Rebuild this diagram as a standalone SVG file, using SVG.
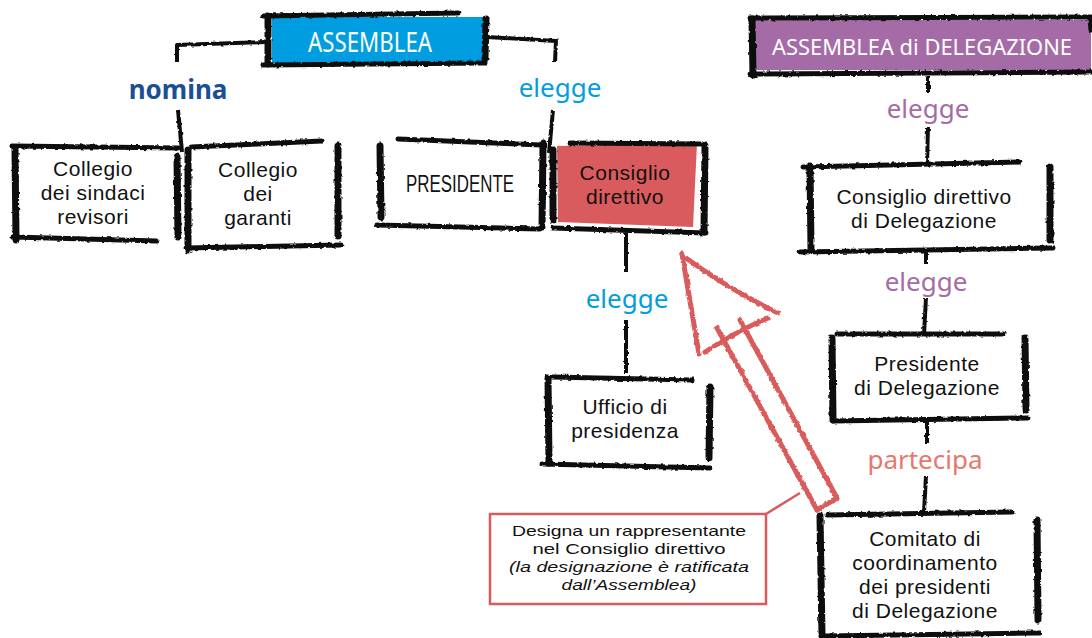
<svg xmlns="http://www.w3.org/2000/svg" width="1092" height="638" viewBox="0 0 1092 638">
<style>
.b{fill:none;stroke:#111;stroke-width:5;stroke-linecap:round;stroke-linejoin:round}
.bw{fill:none;stroke:#111;stroke-width:7;stroke-linecap:round}
.c{fill:none;stroke:#111;stroke-width:4;stroke-linecap:butt;stroke-linejoin:round}
.t{font-family:"Liberation Sans",Arial,sans-serif;font-size:21px;letter-spacing:0.5px;fill:#111;text-anchor:middle}
.h{font-family:"Noto Sans","Open Sans",sans-serif;font-size:28px;fill:#fff;text-anchor:middle}
.l{font-family:"Noto Sans","Open Sans",sans-serif;font-size:26px;text-anchor:middle}
.ar{fill:none;stroke:#d95b5d;stroke-width:5;stroke-linecap:round;stroke-linejoin:round}
.note{font-family:"Liberation Sans",Arial,sans-serif;font-size:15px;fill:#111;text-anchor:middle}
</style>
<defs>
<filter id="rough" filterUnits="userSpaceOnUse" x="0" y="0" width="1092" height="638">
<feTurbulence type="fractalNoise" baseFrequency="0.25" numOctaves="2" seed="4" result="n"/>
<feDisplacementMap in="SourceGraphic" in2="n" scale="3" xChannelSelector="R" yChannelSelector="G"/>
</filter>
</defs>
<rect width="1092" height="638" fill="#fff"/>

<g id="connectors" filter="url(#rough)">
<path class="c" d="M266,42 L177,45 L177,62"/>
<path class="c" d="M178,110 L182,152"/>
<path class="c" d="M487,37 L556,41 L555,62"/>
<path class="c" d="M553,110 L549,153"/>
<path class="c" d="M626,233 L626,272"/>
<path class="c" d="M626,320 L626,373"/>
<path class="c" d="M928,76 L928,92"/>
<path class="c" d="M928,127 L927,165"/>
<path class="c" d="M926,250 L926,264"/>
<path class="c" d="M926,298 L924,334"/>
<path class="c" d="M927,421 L927,443"/>
<path class="c" d="M926,476 L924,512"/>
</g>

<g id="labels">
<text class="l" x="178" y="99" fill="#1b4f95" font-weight="bold">nomina</text>
<text class="l" x="560" y="97" fill="#009ee0">elegge</text>
<text class="l" x="627" y="308" fill="#009ee0">elegge</text>
<text class="l" x="928" y="118" fill="#a56ba6">elegge</text>
<text class="l" x="926" y="291" fill="#a56ba6">elegge</text>
<text class="l" x="925" y="469" fill="#e7766c">partecipa</text>
</g>

<g id="assemblea">
<polygon points="272,17 488,17 488,62 272,63" fill="#009ee0"/>
<g filter="url(#rough)">
<path class="b" d="M263,16 L458,13"/>
<path class="b" d="M263,65 L485,63"/>
<path class="bw" d="M268,16 L268,64"/>
<path class="bw" d="M486,19 L485,58"/>
</g>
<text class="h" x="370" y="52" textLength="124" lengthAdjust="spacingAndGlyphs">ASSEMBLEA</text>
</g>

<g id="assemblea-delegazione">
<polygon points="755,20 1091,20 1091,70 755,70" fill="#a56ba6"/>
<g filter="url(#rough)">
<path class="b" d="M750,18 L1092,17"/>
<path class="b" d="M750,74 L1092,72"/>
<path class="bw" d="M752,19 L753,75"/>
<path class="b" d="M1090,19 L1091,30"/>
</g>
<text class="h" x="922" y="55" style="font-size:21px" textLength="300" lengthAdjust="spacingAndGlyphs">ASSEMBLEA di DELEGAZIONE</text>
</g>

<g id="collegio-sindaci">
<g filter="url(#rough)">
<path class="b" d="M12,146 L178,148"/>
<path class="bw" d="M15,149 L16,240"/>
<path class="bw" d="M177,157 L178,237"/>
<path class="b" d="M13,237 L157,241"/>
</g>
<text class="t" y="176"><tspan x="93">Collegio</tspan><tspan x="93" dy="24">dei sindaci</tspan><tspan x="93" dy="24">revisori</tspan></text>
</g>

<g id="collegio-garanti">
<g filter="url(#rough)">
<path class="b" d="M191,147 L322,141"/>
<path class="bw" d="M188,150 L188,250"/>
<path class="bw" d="M338,146 L338,236"/>
<path class="b" d="M186,248 L341,245"/>
</g>
<text class="t" y="177"><tspan x="258">Collegio</tspan><tspan x="258" dy="24">dei</tspan><tspan x="258" dy="24">garanti</tspan></text>
</g>

<g id="presidente">
<g filter="url(#rough)">
<path class="b" d="M398,139 L541,145"/>
<path class="bw" d="M380,146 L381,217"/>
<path class="bw" d="M543,143 L542,227"/>
<path class="b" d="M377,225 L540,229"/>
</g>
<text class="t" x="460" y="192" style="font-size:24px;letter-spacing:0" textLength="108" lengthAdjust="spacingAndGlyphs">PRESIDENTE</text>
</g>

<g id="consiglio-direttivo">
<polygon points="557,146 697,143 693,227 558,222" fill="#d95b5d"/>
<g filter="url(#rough)">
<path class="b" d="M570,143 L705,144"/>
<path class="bw" d="M553,150 L553,220"/>
<path class="bw" d="M705,146 L704,232"/>
<path class="b" d="M553,228 L706,233"/>
</g>
<text class="t" y="180"><tspan x="625">Consiglio</tspan><tspan x="625" dy="24">direttivo</tspan></text>
</g>

<g id="ufficio-presidenza">
<g filter="url(#rough)">
<path class="b" d="M552,377 L692,380"/>
<path class="bw" d="M548,378 L549,463"/>
<path class="bw" d="M710,387 L709,458"/>
<path class="b" d="M542,464 L710,468"/>
</g>
<text class="t" y="414"><tspan x="625">Ufficio di</tspan><tspan x="625" dy="24">presidenza</tspan></text>
</g>

<g id="consiglio-delegazione">
<g filter="url(#rough)">
<path class="b" d="M803,167 L1020,162"/>
<path class="bw" d="M810,166 L811,250"/>
<path class="bw" d="M1050,167 L1050,240"/>
<path class="b" d="M800,252 L1053,248"/>
</g>
<text class="t" y="204"><tspan x="924">Consiglio direttivo</tspan><tspan x="924" dy="24">di Delegazione</tspan></text>
</g>

<g id="presidente-delegazione">
<g filter="url(#rough)">
<path class="b" d="M837,334 L1003,334"/>
<path class="bw" d="M832,338 L833,420"/>
<path class="bw" d="M1025,338 L1026,410"/>
<path class="b" d="M833,421 L1028,418"/>
</g>
<text class="t" y="371"><tspan x="927">Presidente</tspan><tspan x="927" dy="24">di Delegazione</tspan></text>
</g>

<g id="comitato">
<g filter="url(#rough)">
<path class="b" d="M827,515 L1012,512"/>
<path class="bw" d="M820,516 L822,636"/>
<path class="bw" d="M1037,520 L1038,620"/>
<path class="b" d="M825,636 L1040,633"/>
</g>
<text class="t" y="546"><tspan x="925">Comitato di</tspan><tspan x="925" dy="24">coordinamento</tspan><tspan x="925" dy="24">dei presidenti</tspan><tspan x="925" dy="24">di Delegazione</tspan></text>
</g>

<g id="arrow" filter="url(#rough)">
<path class="ar" d="M682,254 Q690,300 699,354"/>
<path class="ar" d="M683,256 Q730,290 778,313"/>
<path class="ar" d="M705,352 Q735,332 768,318"/>
<path class="ar" stroke-width="4.5" d="M717,328 L817,510"/>
<path class="ar" stroke-width="4.5" d="M740,320 L837,498"/>
<path class="ar" stroke-width="1.5" d="M817,510 L837,498"/>
</g>

<g id="callout">
<path d="M800,493 L766,514" fill="none" stroke="#d95b5d" stroke-width="2.5"/>
<rect x="490" y="514" width="276" height="90" fill="#fff" stroke="#d95b5d" stroke-width="2.5"/>
<text class="note" x="629" y="536" textLength="234" lengthAdjust="spacingAndGlyphs">Designa un rappresentante</text>
<text class="note" x="629" y="554" textLength="193" lengthAdjust="spacingAndGlyphs">nel Consiglio direttivo</text>
<text class="note" x="629" y="572" font-style="italic" textLength="240" lengthAdjust="spacingAndGlyphs">(la designazione è ratificata</text>
<text class="note" x="629" y="590" font-style="italic" textLength="135" lengthAdjust="spacingAndGlyphs">dall’Assemblea)</text>
</g>
</svg>
